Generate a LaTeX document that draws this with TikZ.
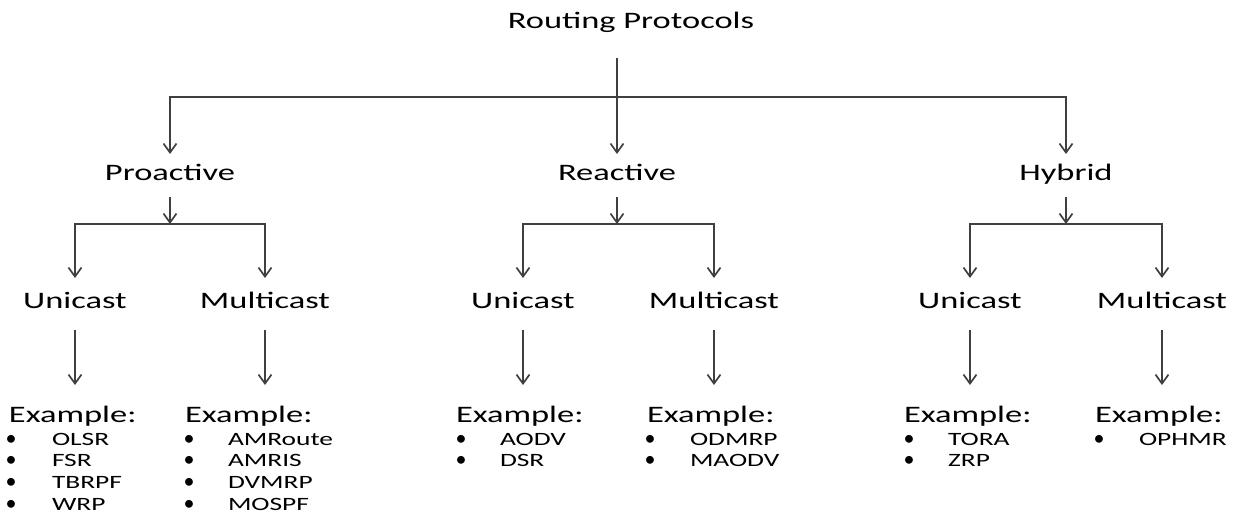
\documentclass[tikz,border=0pt]{standalone}
\usepackage{fontspec}
\setmainfont{Carlito}
\usepackage{graphicx}
\usetikzlibrary{arrows.meta}
\newcommand\wx[1]{\scalebox{1.46}[1]{#1}}
\definecolor{lc}{HTML}{404040}
\tikzset{
 lab/.style={inner sep=0pt, outer sep=0pt, font=\fontsize{11.8}{14}\selectfont, anchor=base},
 exhdr/.style={inner sep=0pt, outer sep=0pt, font=\fontsize{11.8}{14}\selectfont, anchor=base west},
 itm/.style={inner sep=0pt, outer sep=0pt, font=\fontsize{9.4}{11}\selectfont, anchor=base west},
 bul/.style={inner sep=0pt, outer sep=0pt, font=\fontsize{11}{13}\selectfont, anchor=base},
 ln/.style={draw=lc, line width=0.85pt},
 arr/.style={ln, -{Straight Barb[length=4.5pt,width=6.5pt,line width=0.85pt]}},
}
\begin{document}
\begin{tikzpicture}[x=0.5pt,y=-0.5pt]
\useasboundingbox (0,0) rectangle (1237,516);
% level 0/1
\node[lab] (title) at (631,28) {\wx{Routing Protocols}};
\node[lab] (pro) at (170,180) {\wx{Proactive}};
\node[lab] (rea) at (617,180) {\wx{Reactive}};
\node[lab] (hyb) at (1066,180) {\wx{Hybrid}};
% level 2
\node[lab] (pu) at (75,308) {\wx{Unicast}};
\node[lab] (pm) at (265,308) {\wx{Multicast}};
\node[lab] (ru) at (523,308) {\wx{Unicast}};
\node[lab] (rm) at (714,308) {\wx{Multicast}};
\node[lab] (hu) at (970,308) {\wx{Unicast}};
\node[lab] (hm) at (1162,308) {\wx{Multicast}};
% example headers
\node[exhdr] (e1) at (9,422) {\wx{Example:}};
\node[exhdr] (e2) at (185,422) {\wx{Example:}};
\node[exhdr] (e3) at (456,422) {\wx{Example:}};
\node[exhdr] (e4) at (647,422) {\wx{Example:}};
\node[exhdr] (e5) at (904,422) {\wx{Example:}};
\node[exhdr] (e6) at (1095,422) {\wx{Example:}};
% example items
\foreach \n/\bx/\tx/\lst in {1/11/52/{OLSR,FSR,TBRPF,WRP},
                            2/189/228/{AMRoute,AMRIS,DVMRP,MOSPF},
                            3/461/500/{AODV,DSR},
                            4/650/690/{ODMRP,MAODV},
                            5/909/948/{TORA,ZRP},
                            6/1099/1139/{OPHMR}}{
  \foreach [count=\k] \it in \lst {
    \node[bul] (b\n-\k) at (\bx,{445+(\k-1)*21.7}) {\textbullet};
    \node[itm] (i\n-\k) at (\tx,{445+(\k-1)*21.7}) {\wx{\it}};
  }
}
% top connectors
\coordinate (t0) at (617,58);
\coordinate (b0) at (617,97);
\draw[arr, shorten >=13pt] (t0) -- (rea.base);
\draw[arr, shorten >=13pt] (b0) -| (pro.base);
\draw[arr, shorten >=13pt] (b0) -| (hyb.base);
% second level
\coordinate (pj) at (170,224);
\coordinate (rj) at (617,224);
\coordinate (hj) at (1066,224);
\draw[arr, shorten <=8.5pt] (pro.base) -- (pj);
\draw[arr, shorten <=8.5pt] (rea.base) -- (rj);
\draw[arr, shorten <=8.5pt] (hyb.base) -- (hj);
\draw[arr, shorten >=15pt] (pj) -| (pu.base);
\draw[arr, shorten >=15pt] (pj) -| (pm.base);
\draw[arr, shorten >=15pt] (rj) -| (ru.base);
\draw[arr, shorten >=15pt] (rj) -| (rm.base);
\draw[arr, shorten >=15pt] (hj) -| (hu.base);
\draw[arr, shorten >=15pt] (hj) -| (hm.base);
% to examples
\draw[arr, shorten <=11pt, shorten >=18.5pt] (pu.base) -- (pu.base |- e1.base);
\draw[arr, shorten <=11pt, shorten >=18.5pt] (pm.base) -- (pm.base |- e2.base);
\draw[arr, shorten <=11pt, shorten >=18.5pt] (ru.base) -- (ru.base |- e3.base);
\draw[arr, shorten <=11pt, shorten >=18.5pt] (rm.base) -- (rm.base |- e4.base);
\draw[arr, shorten <=11pt, shorten >=18.5pt] (hu.base) -- (hu.base |- e5.base);
\draw[arr, shorten <=11pt, shorten >=18.5pt] (hm.base) -- (hm.base |- e6.base);
\end{tikzpicture}
\end{document}
